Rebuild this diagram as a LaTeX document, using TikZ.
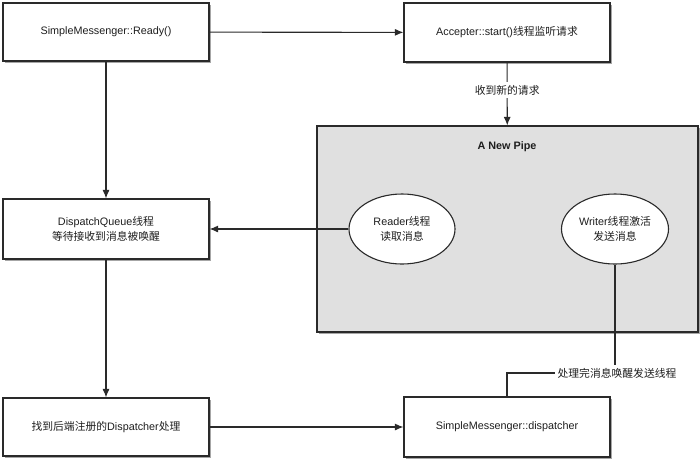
\documentclass[tikz,border=0pt]{standalone}
\usepackage{fontspec}
\setmainfont{Liberation Sans}
\newfontfamily\cjk{Noto Sans CJK SC}
\newcommand{\zhs}[1]{{\cjk #1}}
\usetikzlibrary{arrows.meta,shapes.geometric,shadows}
\definecolor{edge}{HTML}{2A2A2A}
\definecolor{txt}{HTML}{1E1E1E}
\definecolor{pipegray}{HTML}{E0E0E0}
\begin{document}
\begin{tikzpicture}[x=1pt,y=-1pt,
  every node/.style={text=txt, font=\fontsize{10.8}{15.5}\selectfont},
  shadowed/.style={drop shadow={shadow xshift=1.6pt, shadow yshift=-1.6pt, opacity=0.35, fill=black}},
  box/.style={draw=edge, fill=white, line width=1.1pt, minimum width=206pt, minimum height=58pt, align=center, shadowed},
  oval/.style={ellipse, draw=edge, fill=white, line width=1.1pt, minimum width=106pt, minimum height=70pt, inner sep=0pt, align=center},
  pipebox/.style={draw=edge, fill=pipegray, line width=1.1pt, minimum width=381pt, minimum height=206pt, shadowed},
  conn/.style={draw=edge, line width=1.1pt},
  arr/.style={conn, -{Latex[length=8.5pt,width=7pt]}},
  lbl/.style={fill=white, inner sep=3pt}
]
\useasboundingbox (0,0) rectangle (700,459);

\node[box] (ready) at (106,32) {SimpleMessenger::Ready()};
\node[box, minimum height=59pt] (acc) at (507,32.5) {Accepter::start()\zhs{线程监听请求}};
\node[pipebox] (pipe) at (507.5,229) {};
\node[font=\bfseries\fontsize{10.8}{13}\selectfont] (title) at (507,147) {A New Pipe};
\node[oval] (reader) at (402,229) {Reader\zhs{线程}\\\zhs{读取消息}};
\node[oval, minimum width=107pt] (writer) at (615,229) {Writer\zhs{线程激活}\\\zhs{发送消息}};
\node[box, minimum height=60pt] (dq) at (106,229) {DispatchQueue\zhs{线程}\\\zhs{等待接收到消息被唤醒}};
\node[box] (find) at (106,427) {\zhs{找到后端注册的}Dispatcher\zhs{处理}};
\node[box, minimum height=60pt] (disp) at (507,427) {SimpleMessenger::dispatcher};

\draw[arr] (ready) -- (acc);
\draw[arr] (ready) -- (dq);
\draw[arr] (acc) -- node[lbl, pos=0.44] (lab1) {\zhs{收到新的请求}} (pipe);
\draw[arr] (reader) -- (dq);
\draw[arr] (dq) -- (find);
\draw[arr] (find) -- (disp);
\coordinate (elbow) at (writer.south |- 0,373);
\draw[conn] (disp.north) |- (elbow) -- (writer.south);
\node[lbl] (lab2) at (617,373) {\zhs{处理完消息唤醒发送线程}};
\end{tikzpicture}
\end{document}
